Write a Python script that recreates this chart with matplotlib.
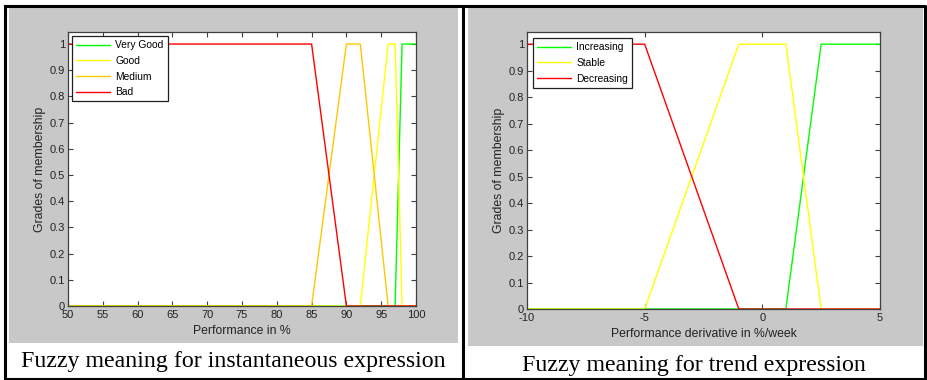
import numpy as np
import matplotlib as mpl
mpl.use('Agg')
import matplotlib.pyplot as plt
from matplotlib.patches import Rectangle
from matplotlib.lines import Line2D

# membership functions, instantaneous performance (%)
bad_x = [50, 85, 90, 100]
bad_y = [1, 1, 0, 0]
medium_x = [50, 85, 90, 92, 96, 100]
medium_y = [0, 0, 1, 1, 0, 0]
good_x = [50, 92, 96, 97, 98, 100]
good_y = [0, 0, 1, 1, 0, 0]
very_good_x = [50, 97, 98, 100]
very_good_y = [0, 0, 1, 1]

# membership functions, trend (%/week)
decr_x = [-10, -5, -1, 5]
decr_y = [1, 1, 0, 0]
stable_x = [-10, -5, -1, 1, 2.5, 5]
stable_y = [0, 0, 1, 1, 0, 0]
incr_x = [-10, 1, 2.5, 5]
incr_y = [0, 0, 1, 1]

left_ticks = list(range(50, 101, 5))
right_ticks = [-10, -5, 0, 5]
y_ticks = [0, 0.1, 0.2, 0.3, 0.4, 0.5, 0.6, 0.7, 0.8, 0.9, 1]
y_ticklabels = ['0', '0.1', '0.2', '0.3', '0.4', '0.5', '0.6', '0.7', '0.8', '0.9', '1']

GREEN = '#00ff00'
YELLOW = '#ffff00'
ORANGE = '#ffc800'
RED = '#ff0000'
GREY = '#c8c8c8'

W, H = 927, 380
plt.rcParams['font.family'] = ['Liberation Sans', 'DejaVu Sans']
plt.rcParams['axes.unicode_minus'] = False  # matlab style "-10"

fig = plt.figure(figsize=(W / 100, H / 100), dpi=100)
fig.patch.set_facecolor('white')


def px_rect(x0, y0, x1, y1):
    # pixel box (top-down) -> figure fraction rect
    return [x0 / W, (H - y1) / H, (x1 - x0) / W, (y1 - y0) / H]


# grey panels behind the axes
for box in [(9, 8, 458, 343), (468, 8, 923, 346)]:
    r = px_rect(*box)
    fig.patches.append(Rectangle((r[0], r[1]), r[2], r[3], transform=fig.transFigure,
                                 facecolor=GREY, edgecolor='none', zorder=-5))

# table borders
bw = 2.2
fig.lines.append(Line2D([5 / W, 925 / W, 925 / W, 5 / W, 5 / W],
                        [1 - 6 / H, 1 - 6 / H, 1 - 379 / H, 1 - 379 / H, 1 - 6 / H],
                        transform=fig.transFigure, color='black', lw=bw))
fig.lines.append(Line2D([463 / W, 463 / W], [1 - 6 / H, 1 - 379 / H],
                        transform=fig.transFigure, color='black', lw=bw))


def style_axes(ax):
    ax.set_zorder(5)
    ax.set_facecolor('white')
    for s in ax.spines.values():
        s.set_color('#404040')
        s.set_linewidth(0.9)
    ax.tick_params(direction='in', length=3.5, width=0.8, color='#404040',
                   top=True, right=True, labelsize=8, labelcolor='#222222', pad=2)
    ax.tick_params(axis='x', pad=3)
    ax.set_ylim(0, 1.046)
    ax.set_yticks(y_ticks)
    ax.set_yticklabels(y_ticklabels)
    ax.set_ylabel('Grades of membership', fontsize=8.8, color='#222222', labelpad=3)


leg_kw = dict(loc='upper left', fontsize=7.4, handlelength=3.3, handletextpad=0.5,
              labelspacing=0.55, borderpad=0.4, borderaxespad=0, fancybox=False,
              framealpha=1)

# left: instantaneous
ax1 = fig.add_axes(px_rect(68, 32, 416, 306))
ax1.plot(very_good_x, very_good_y, color=GREEN, lw=1, label='Very Good')
ax1.plot(good_x, good_y, color=YELLOW, lw=1, label='Good')
ax1.plot(medium_x, medium_y, color=ORANGE, lw=1, label='Medium')
ax1.plot(bad_x, bad_y, color=RED, lw=1, label='Bad')
ax1.set_xlim(50, 100)
ax1.set_xticks(left_ticks)
style_axes(ax1)
ax1.set_xlabel('Performance in %', fontsize=8.8, color='#222222', labelpad=3.5)
leg1 = ax1.legend(bbox_to_anchor=(0.012, 0.985), **leg_kw)
leg1.get_frame().set_edgecolor('#202020')
leg1.get_frame().set_linewidth(0.9)

# right: trend
ax2 = fig.add_axes(px_rect(527, 32, 880, 309))
ax2.plot(incr_x, incr_y, color=GREEN, lw=1, label='Increasing')
ax2.plot(stable_x, stable_y, color=YELLOW, lw=1, label='Stable')
ax2.plot(decr_x, decr_y, color=RED, lw=1, label='Decreasing')
ax2.set_xlim(-10, 5)
ax2.set_xticks(right_ticks)
style_axes(ax2)
ax2.set_xlabel('Performance derivative in %/week', fontsize=8.8, color='#222222', labelpad=3.5)
leg2 = ax2.legend(bbox_to_anchor=(0.017, 0.978), **leg_kw)
leg2.get_frame().set_edgecolor('#202020')
leg2.get_frame().set_linewidth(0.9)

# captions
fig.text(233 / W, 1 - 362 / H, 'Fuzzy meaning for instantaneous expression',
         ha='center', va='center', fontsize=17.2, family='Liberation Serif')
fig.text(694 / W, 1 - 365 / H, 'Fuzzy meaning for trend expression',
         ha='center', va='center', fontsize=17.2, family='Liberation Serif')

fig.savefig('out.png', dpi=100, facecolor='white')
